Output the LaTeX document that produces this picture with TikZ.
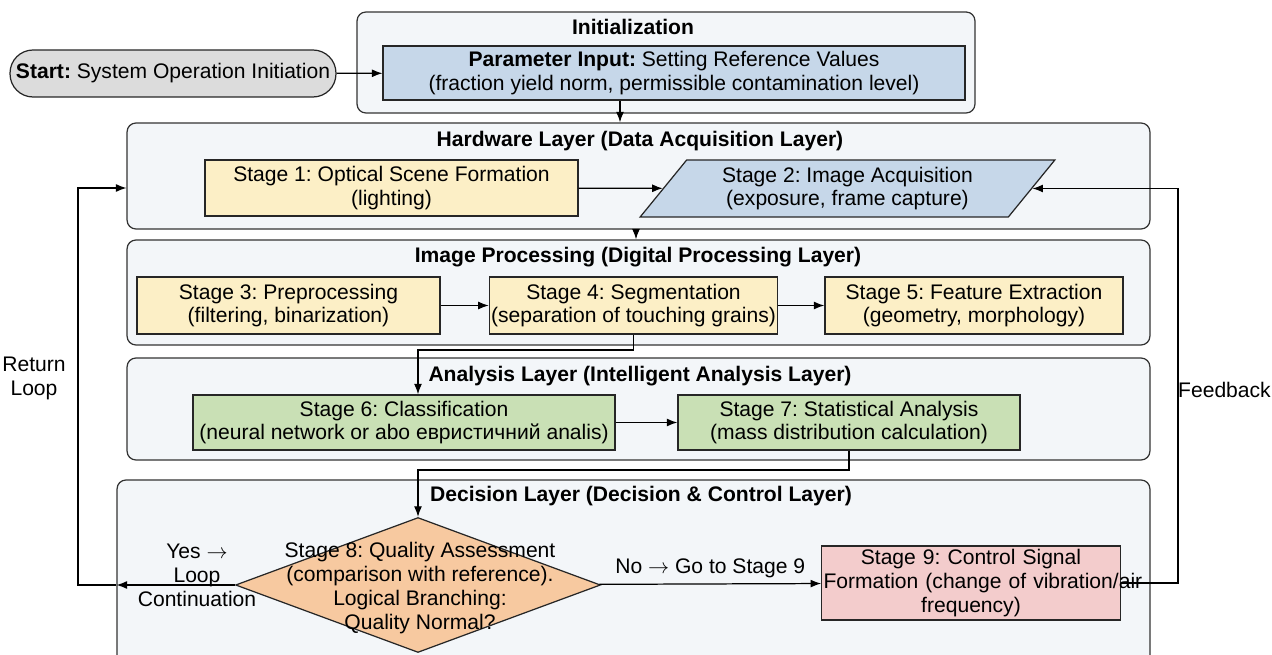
\documentclass[tikz,border=0pt]{standalone}
\usepackage{fontspec}
\setmainfont{Liberation Sans}
\usepackage{xcolor}
\usepackage{tikz}
\usetikzlibrary{shapes,arrows,arrows.meta,positioning,calc}
\frenchspacing

\definecolor{layerbg}{HTML}{F3F6F9}
\definecolor{stageyel}{HTML}{FCEFC6}
\definecolor{stageblue}{HTML}{C6D7E9}
\definecolor{stagegreen}{HTML}{C9E0B5}
\definecolor{stageorange}{HTML}{F7C9A0}
\definecolor{stagepink}{HTML}{F3CCCC}
\definecolor{startgray}{HTML}{DCDCDC}

\begin{document}
\begin{tikzpicture}[
    x=0.02cm, y=-0.02cm,
    font=\fontsize{12}{13.6}\selectfont,
    layerbox/.style={rectangle, draw=black!80, fill=layerbg, line width=0.7pt, rounded corners=5pt},
    title/.style={font=\fontsize{12}{13.6}\selectfont\bfseries},
    stage/.style={rectangle, draw=black!85, line width=0.7pt, align=center, inner sep=1pt},
    flow/.style={-{Latex[length=6pt,width=4.5pt]}, line width=0.7pt},
    plain/.style={line width=0.7pt}
]
    \clip (0,0) rectangle (1272,655);

    % layer frames
    \node [layerbox, minimum width=12.36cm, minimum height=2.02cm] (init) at (666,62.5) {};
    \node [layerbox, minimum width=20.46cm, minimum height=2.12cm] (hw) at (638.5,176) {};
    \node [layerbox, minimum width=20.46cm, minimum height=2.10cm] (ip) at (638.5,292.5) {};
    \node [layerbox, minimum width=20.46cm, minimum height=2.04cm] (an) at (638.5,409) {};
    \node [layerbox, minimum width=20.66cm, minimum height=4.4cm] (dc) at (633.5,590) {};

    \node [title] (initt) at (633,27) {Initialization};
    \node [title] (hwt) at (640,141) {Hardware Layer (Data Acquisition Layer)};
    \node [title] (ipt) at (638,257) {Image Processing (Digital Processing Layer)};
    \node [title] (ant) at (640,376) {Analysis Layer (Intelligent Analysis Layer)};
    \node [title] (dct) at (641,496) {Decision Layer (Decision \& Control Layer)};

    % start and parameters
    \node [rectangle, rounded corners=0.46cm, draw=black!85, fill=startgray, line width=0.7pt,
           minimum width=6.52cm, minimum height=0.94cm, inner sep=1pt] (start) at (173,73.5)
          {\textbf{Start:} System Operation Initiation};
    \node [stage, fill=stageblue, minimum width=11.64cm, minimum height=1.08cm] (param) at (674,73)
          {\textbf{Parameter Input:} Setting Reference Values\\(fraction yield norm, permissible contamination level)};

    % stages
    \node [stage, fill=stageyel, minimum width=7.46cm, minimum height=1.12cm] (s1) at (391.5,188)
          {Stage 1: Optical Scene Formation\\(lighting)};
    \node [trapezium, trapezium left angle=52, trapezium right angle=128, trapezium stretches=true,
           draw=black!85, fill=stageblue, line width=0.7pt, align=center, inner sep=1pt,
           minimum width=8.3cm, minimum height=1.14cm] (s2) at (847.5,188.5)
          {Stage 2: Image Acquisition\\(exposure, frame capture)};

    \node [stage, fill=stageyel, minimum width=6.06cm, minimum height=1.14cm] (s3) at (288.5,305.5)
          {Stage 3: Preprocessing\\(filtering, binarization)};
    \node [stage, fill=stageyel, minimum width=5.74cm, minimum height=1.14cm] (s4) at (633.5,305.5)
          {Stage 4: Segmentation\\(separation of touching grains)};
    \node [stage, fill=stageyel, minimum width=5.96cm, minimum height=1.14cm] (s5) at (974,305.5)
          {Stage 5: Feature Extraction\\(geometry, morphology)};

    \node [stage, fill=stagegreen, minimum width=8.44cm, minimum height=1.1cm] (s6) at (404,422.5)
          {Stage 6: Classification\\(neural network or abo евристичний analis)};
    \node [stage, fill=stagegreen, minimum width=6.84cm, minimum height=1.1cm] (s7) at (849,422.5)
          {Stage 7: Statistical Analysis\\(mass distribution calculation)};

    \node [diamond, draw=black!85, fill=stageorange, line width=0.7pt, inner sep=0pt,
           minimum width=7.3cm, minimum height=2.7cm] (q) at (418,585) {};
    \node [align=center] (qtext) at (420,588)
          {Stage 8: Quality Assessment\\(comparison with reference).\\Logical Branching:\\Quality Normal?};

    \node [stage, fill=stagepink, minimum width=5.96cm, minimum height=1.48cm, text width=5.9cm] (s9) at (971,583)
          {Stage 9: Control Signal\\\mbox{Formation (change of vibration/air}\\frequency)};

    % connectors
    \coordinate (j1) at (418,350);
    \coordinate (j2) at (418,470);
    \coordinate (rl) at (78,585);
    \coordinate (fb) at (1178,583);

    \draw [flow] (start) -- (param);
    \draw [flow] (param.south -| 620,0) -- (hw.north -| 620,0);
    \draw [flow] (s1) -- (s2);
    \draw [flow] (hw.south -| 636,0) -- (ip.north -| 636,0);
    \draw [flow] (s3) -- (s4);
    \draw [flow] (s4) -- (s5);
    \draw [flow] (s4.south) |- (j1) -- (j1 |- s6.north);
    \draw [flow] (s6) -- (s7);
    \draw [flow] (s7.south) |- (j2) -- (q.north);
    \draw [flow] (q) -- node [above] {No $\rightarrow$ Go to Stage 9} (s9);
    \draw [flow] (q.west) -- (dc.west |- q.west);
    \draw [flow] (dc.west |- q.west) -- (rl) |- (hw.west |- s1);
    \draw [flow] (s9.east) -- (fb) |- (s2.east);

    % loop labels
    \node [align=center] (yes) at (197,575) {Yes $\rightarrow$\\Loop\\Continuation};
    \node [align=center] (ret) at (34,378) {Return\\Loop};
    \node [anchor=east, inner sep=0.5pt] (fbl) at (1272,390) {Feedback};
\end{tikzpicture}
\end{document}
